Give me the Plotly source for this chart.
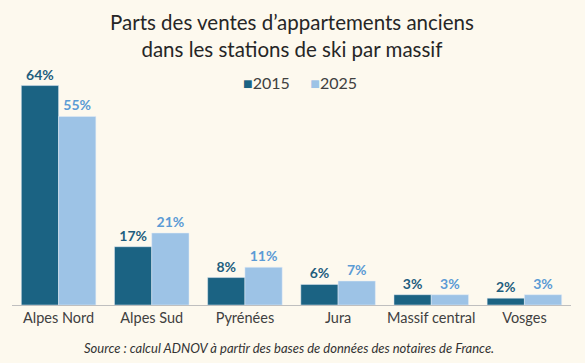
import plotly.graph_objects as go

categories = ["Alpes Nord", "Alpes Sud", "Pyrénées", "Jura", "Massif central", "Vosges"]
values_2015 = [64, 17, 8, 6, 3, 2]
values_2025 = [55, 21, 11, 7, 3, 3]
series_names = ["2015", "2025"]

bg = "#FDF9EE"
dark = "#1B6383"
light = "#9DC3E6"

fig = go.Figure()
fig.add_trace(go.Bar(
    name=series_names[0], x=categories, y=values_2015, marker_color=dark,
    text=[f"{v}%" for v in values_2015], textposition="outside",
    textfont=dict(family="Lato", size=14, color="#1F5E7E", weight="bold"),
    cliponaxis=False,
))
fig.add_trace(go.Bar(
    name=series_names[1], x=categories, y=values_2025, marker_color=light,
    text=[f"{v}%" for v in values_2025], textposition="outside",
    textfont=dict(family="Lato", size=14, color="#5B9BD5", weight="bold"),
    cliponaxis=False,
))

legend_text = (
    f"<span style='color:{dark}'>■</span>{series_names[0]}"
    f"&nbsp;&nbsp;&nbsp;&nbsp;&nbsp;<span style='color:{light}'>■</span>{series_names[1]}"
)

fig.update_layout(
    width=585, height=363,
    paper_bgcolor=bg, plot_bgcolor=bg,
    margin=dict(l=12, r=14, t=65, b=58, autoexpand=False),
    barmode="group", bargap=0.2, bargroupgap=0,
    showlegend=False,
    xaxis=dict(
        showline=True, linecolor="#BFBFBF", linewidth=1, ticks="",
        tickfont=dict(family="Lato", size=14.5, color="#404040"),
        showgrid=False, automargin=False,
    ),
    yaxis=dict(range=[0, 70], visible=False, showgrid=False, automargin=False),
    annotations=[
        dict(
            text="Parts des ventes d’appartements anciens<br>dans les stations de ski par massif",
            x=0.5, xref="paper", xanchor="center",
            y=1 + (65 - 8) / 240, yref="paper", yanchor="top",
            showarrow=False, font=dict(family="Lato", size=20.5, color="#262626"),
        ),
        dict(
            text=legend_text,
            x=0.515, xref="paper", xanchor="center",
            y=1 - (82 - 65) / 240, yref="paper", yanchor="middle",
            showarrow=False, font=dict(family="Lato", size=16, color="#404040"),
        ),
        dict(
            text="<i>Source : calcul ADNOV à partir des bases de données des notaires de France.</i>",
            x=0.495, xref="paper", xanchor="center",
            y=-43 / 240, yref="paper", yanchor="middle",
            showarrow=False, font=dict(family="Lato", size=13, color="#333333"),
        ),
    ],
)

fig.write_html(
    "out.html",
    config={"displayModeBar": False},
    post_script="document.body.style.margin='0';document.body.style.overflow='hidden';",
)
